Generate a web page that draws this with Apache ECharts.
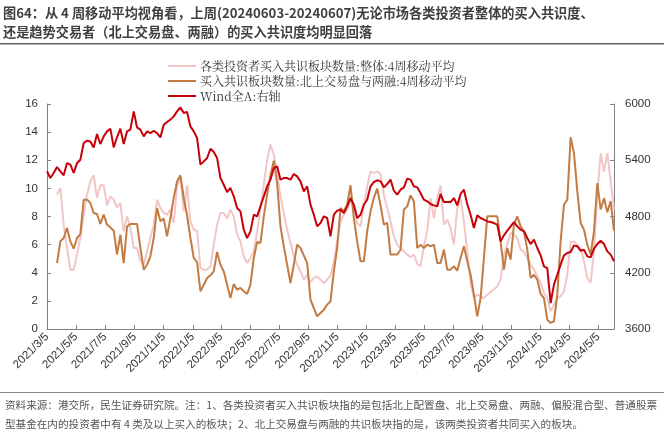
<!DOCTYPE html>
<html><head><meta charset="utf-8">
<script src="https://cdn.jsdelivr.net/npm/echarts@6/dist/echarts.min.js"></script>
<style>html,body{margin:0;padding:0;background:#fff}#c{width:664px;height:439px}</style>
</head><body><div id="c"></div>
<script>
const titleLines = ['图64：从 4 周移动平均视角看，上周(20240603-20240607)无论市场各类投资者整体的买入共识度、','还是趋势交易者（北上交易盘、两融）的买入共识度均明显回落'];
const footLines = ['资料来源：港交所，民生证券研究院。注：1、各类投资者买入共识板块指的是包括北上配置盘、北上交易盘、两融、偏股混合型、普通股票','型基金在内的投资者中有 4 类及以上买入的板块；2、北上交易盘与两融的共识板块指的是，该两类投资者共同买入的板块。'];
const seriesNames = ['各类投资者买入共识板块数量:整体:4周移动平均','买入共识板块数量:北上交易盘与两融:4周移动平均','Wind全A:右轴'];
const firstWeek = '2021/3/5';
const lastDay = '2024/6/7';
const leftTicks = {min:0,max:16,interval:2};
const rightTicks = {min:3600,max:6000,interval:600};

const overall = [null,null,null,
9.55,10.03,7.42,5.76,4.22,4.22,5.29,6.47,8.13,9.55,10.5,10.93,9.32,10.22,10.22,8.79,9.43,9.2,8.65,8.96,6.94,8.01,7.18,5.76,5.76,4.81,
4.57,5.52,6.47,7.42,9.2,8.6,8.25,8.13,8.49,7.54,10.14,10.74,8.37,10.22,7.66,7.06,6.99,4.34,4.22,4.22,4.46,6.0,7.42,8.25,8.25,7.85,8.49,8.01,6.71,
6.23,5.17,4.69,5.05,5.52,6.94,8.6,10.26,12.04,13.11,12.4,11.09,9.43,8.25,7.06,6.12,5.17,4.57,4.1,3.51,3.86,3.34,3.63,3.74,3.51,3.27,3.51,3.82,
4.81,6.23,7.66,8.13,8.49,9.2,8.72,7.54,7.3,8.72,10.14,11.21,11.09,11.21,11.02,9.55,8.6,7.66,6.59,6.0,5.76,5.52,5.29,5.1,5.29,4.62,4.46,5.88,
6.94,9.32,7.89,9.32,10.22,7.42,7.77,7.18,6.0,8.6,9.32,7.66,5.52,3.27,2.2,2.44,2.32,2.2,2.44,2.63,2.8,3.03,3.51,5.29,6.0,6.83,6.71,6.47,
5.64,5.48,5.05,4.57,4.22,3.74,3.27,2.56,2.2,1.26,1.73,2.2,2.32,2.68,3.86,6.19,6.23,6.0,5.76,4.81,3.63,3.27,5.52,9.55,12.5,11.2,12.5,10.5,8.5];

const trend = [null,null,null,
4.69,6.23,6.47,7.18,6.23,5.71,6.47,6.75,9.2,9.2,8.96,8.25,8.18,7.47,8.13,7.42,7.23,6.99,5.29,6.71,4.69,7.3,7.47,7.47,7.47,5.76,
4.22,4.57,5.17,6.47,8.6,7.66,7.85,6.59,7.89,9.32,10.5,10.93,9.32,8.08,6.47,5.05,4.76,2.68,3.15,3.63,3.82,4.1,5.48,4.57,4.1,3.15,2.2,3.2,2.8,
2.92,2.68,2.49,3.15,5.05,6.19,6.12,8.01,9.55,10.93,11.97,10.38,7.3,5.88,4.57,3.27,4.57,6.0,5.76,5.24,4.69,2.09,1.49,0.9,1.14,1.37,1.73,1.97,
4.1,5.76,8.6,8.37,8.84,10.22,7.89,6.23,4.81,4.81,6.94,8.37,9.32,9.98,8.79,7.42,7.54,5.29,5.29,5.29,5.64,8.49,8.72,9.5,9.08,5.76,6.0,5.76,
6.0,5.88,6.0,4.69,4.69,5.64,4.22,4.22,4.46,4.15,5.05,5.88,4.81,3.86,2.44,0.9,2.2,5.05,8.01,8.01,8.01,8.01,6.23,4.22,5.76,4.93,7.42,8.01,
7.3,6.94,5.64,3.63,3.86,3.51,2.49,2.2,0.66,0.43,0.55,2.44,6.23,8.84,9.2,13.63,12.51,9.79,7.54,7.06,6.0,5.29,6.94,10.38,8.5,9.3,8.3,9.1,7.0];

const windA = [
5282,5210,5264,5328,5282,5239,5370,5353,5264,5370,5406,5584,5609,5600,5537,5680,5573,5655,5708,5737,5537,5645,5737,5573,5708,5726,5921,5750,5726,
5655,5708,5690,5715,5690,5644,5779,5808,5833,5868,5921,5964,5904,5914,5761,5708,5637,5353,5388,5424,5523,5488,5424,5210,5139,5061,5104,5015,4890,
4855,4659,4570,4641,4819,4802,4908,5015,5122,5193,5317,5335,5193,5210,5210,5193,5253,5228,5175,5068,5122,4926,4819,4695,4730,4802,4784,4588,
4819,4862,4873,4837,4908,4997,4926,4784,4819,4926,4979,5122,5168,5186,5175,5111,5146,5193,5075,5033,5086,5111,5203,5193,5122,5111,5050,4979,
4962,4933,4919,4908,5040,4954,4954,4954,4997,4919,5040,5086,4933,4819,4677,4812,4784,4766,4748,4741,4730,4713,4535,4599,4649,4695,4741,4695,
4659,4642,4570,4506,4553,4464,4386,4268,4250,3877,4073,4179,4286,4386,4411,4421,4492,4482,4435,4446,4375,4364,4457,4506,4542,4506,4428,4393,4322];

function parseD(s){const p=s.split('/').map(Number);return Date.UTC(p[0],p[1]-1,p[2]);}
function fmt(t){const d=new Date(t);return d.getUTCFullYear()+'/'+(d.getUTCMonth()+1)+'/'+d.getUTCDate();}
const DAY=86400000;
const t0=parseD(firstWeek), t1=parseD(lastDay);
const days=[];
for(let t=t0;t<=t1;t+=DAY) days.push(fmt(t));
function weekIdx(i){return i*7;}
function toPairs(arr){return arr.map((v,i)=>[weekIdx(i),v]);}
function isTick(idx){const p=days[idx].split('/');return p[2]==='5' && (+p[1])%2===1;}

const chart=echarts.init(document.getElementById('c'),null,{renderer:'canvas'});
const axisColor='#808080';
const labelFont={color:'#333',fontSize:11.5,fontFamily:'Liberation Sans, Arial, sans-serif'};
chart.setOption({
  animation:false,
  backgroundColor:'#fff',
  grid:{left:47,right:50,top:104,bottom:110},
  legend:{
    orient:'vertical',left:163,top:55,itemWidth:28,itemHeight:2,itemGap:3,icon:'rect',
    textStyle:{color:'#333',fontSize:12,fontFamily:'"Noto Serif CJK SC","Liberation Serif",serif',padding:[0,0,0,-1]},
    data:seriesNames
  },
  xAxis:{
    type:'category',data:days,boundaryGap:false,
    axisLine:{lineStyle:{color:axisColor,width:1}},
    axisTick:{inside:true,length:4,interval:(i)=>isTick(i),lineStyle:{color:axisColor}},
    axisLabel:Object.assign({interval:(i)=>isTick(i),rotate:45,margin:6},labelFont),
    splitLine:{show:false}
  },
  yAxis:[
    {type:'value',min:leftTicks.min,max:leftTicks.max,interval:leftTicks.interval,
     axisLine:{show:true,lineStyle:{color:axisColor}},axisTick:{show:true,inside:true,length:4,lineStyle:{color:axisColor}},
     axisLabel:Object.assign({margin:9,formatter:(v)=>String(v)},labelFont),splitLine:{show:false}},
    {type:'value',min:rightTicks.min,max:rightTicks.max,interval:rightTicks.interval,position:'right',
     axisLine:{show:true,lineStyle:{color:axisColor}},axisTick:{show:true,inside:true,length:4,lineStyle:{color:axisColor}},
     axisLabel:Object.assign({margin:11,formatter:(v)=>String(v)},labelFont),splitLine:{show:false}}
  ],
  series:[
    {name:seriesNames[0],type:'line',yAxisIndex:0,data:toPairs(overall),showSymbol:false,symbol:'none',
     lineStyle:{color:'#F2C6C6',width:2},itemStyle:{color:'#F2C6C6'}},
    {name:seriesNames[1],type:'line',yAxisIndex:0,data:toPairs(trend),showSymbol:false,symbol:'none',
     lineStyle:{color:'#C27B43',width:2},itemStyle:{color:'#C27B43'}},
    {name:seriesNames[2],type:'line',yAxisIndex:1,data:toPairs(windA),showSymbol:false,symbol:'none',
     lineStyle:{color:'#C8000A',width:2},itemStyle:{color:'#C8000A'}}
  ],
  graphic:[
    {type:'text',left:3,top:6,style:{text:titleLines[0],fill:'#404040',font:'bold 13.2px "Noto Sans CJK SC", sans-serif'}},
    {type:'text',left:3,top:25,style:{text:titleLines[1],fill:'#404040',font:'bold 13.2px "Noto Sans CJK SC", sans-serif'}},
    {type:'rect',shape:{x:0,y:43,width:664,height:1.5},style:{fill:'#666'}},
    {type:'rect',shape:{x:0,y:392,width:664,height:1},style:{fill:'#888'}},
    {type:'text',left:5,top:400,style:{text:footLines[0],fill:'#555',font:'10.6px "Noto Sans CJK SC", sans-serif'}},
    {type:'text',left:5,top:419,style:{text:footLines[1],fill:'#555',font:'10.6px "Noto Sans CJK SC", sans-serif'}}
  ]
});
</script></body></html>
